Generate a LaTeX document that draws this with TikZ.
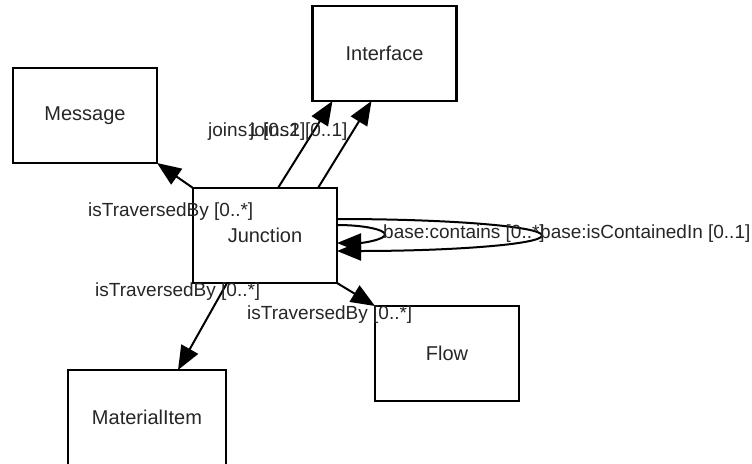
\documentclass[tikz,border=0pt]{standalone}
\usepackage{fontspec}
\setmainfont{Liberation Sans}
\usetikzlibrary{arrows.meta,calc}
\tikzset{
  cls/.style={draw=black, line width=2.6pt, fill=white, minimum width=144pt, minimum height=95pt,
    inner sep=0pt, outer sep=0pt, font=\fontsize{20}{23}\selectfont, text=black!85},
  lbl/.style={inner sep=0pt, anchor=west, font=\fontsize{19}{22}\selectfont, text=black!85},
  conn/.style={draw=black, line width=2pt, -{Triangle[length=24pt,width=19pt]}},
}
\begin{document}
\begin{tikzpicture}[x=1pt,y=-1pt]
\useasboundingbox (0,0) rectangle (752,463);
% classes
\node[cls] (msg) at (85,115.5) {Message};
\node[cls] (intf) at (384.5,53.5) {Interface};
\node[cls] (j) at (265,235.5) {Junction};
\node[cls] (flow) at (447,353.5) {Flow};
\node[cls, minimum width=158pt] (mat) at (147,417.5) {MaterialItem};
% connectors
\draw[conn] (j.north west) -- (msg.south east);
\draw[conn] ([xshift=85pt]j.north west) -- ([xshift=20pt]intf.south west);
\draw[conn] ([xshift=125pt]j.north west) -- ([xshift=59pt]intf.south west);
\draw[conn] (j.south east) -- (flow.north west);
\draw[conn] ([xshift=34pt]j.south west) -- ([xshift=110pt]mat.north west);
% self loops
\coordinate (o1) at ($(j.east)+(0,-16.5)$);
\coordinate (o2) at ($(j.east)+(0,15.5)$);
\coordinate (orx) at ($(j.east)+(205,0)$);
\coordinate (i1) at ($(j.east)+(0,-10.5)$);
\coordinate (i2) at ($(j.east)+(0,7.5)$);
\coordinate (irx) at ($(j.east)+(48,-1)$);
\draw[conn] (o1) .. controls +(113,0) and +(0,-9) .. (orx) .. controls +(0,9) and +(113,0) .. (o2);
\draw[conn] (i1) .. controls +(26,0) and +(0,-5) .. (irx) .. controls +(0,5) and +(26,0) .. (i2);
% labels
\node[lbl] (l1) at (88,212) {isTraversedBy [0..*]};
\node[lbl] (l2) at (95,292) {isTraversedBy [0..*]};
\node[lbl] (l3) at (247,315) {isTraversedBy [0..*]};
\node[lbl] (l4) at (208,132) {joins1 [0..1]};
\node[lbl] (l5) at (250,132) {joins2 [0..1]};
\node[lbl] (l6) at (383,234) {base:contains [0..*]};
\node[lbl] (l7) at (540,234) {base:isContainedIn [0..1]};
\end{tikzpicture}
\end{document}
